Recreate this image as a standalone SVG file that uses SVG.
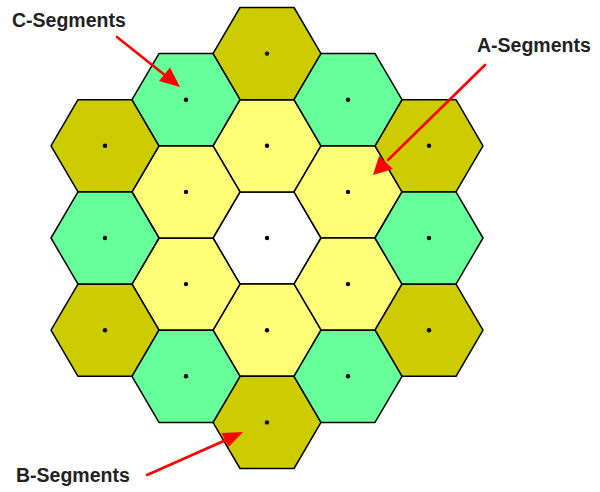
<svg xmlns="http://www.w3.org/2000/svg" xmlns:xlink="http://www.w3.org/1999/xlink" width="600" height="492" viewBox="0 0 600 492">
<style>
.hex{stroke:#000;stroke-width:1.5;stroke-linejoin:round}
.olive{fill:#cccc00}
.green{fill:#66ff99}
.yellow{fill:#ffff77}
.white{fill:#ffffff}
.dot{fill:#000}
.lbl{font-family:"Liberation Sans",Arial,sans-serif;font-size:19.5px;font-weight:bold;fill:#222}
.arr{stroke:#ff0000;stroke-width:2.6;fill:none;stroke-linecap:round}
.head{fill:#ff0000}
</style>
<defs>
<polygon id="hx" points="-54,0 -27,-46.1 27,-46.1 54,0 27,46.1 -27,46.1"/>
</defs>
<rect width="600" height="492" fill="#fff"/>
<g id="segments">
<g id="center" transform="translate(267,238)"><use href="#hx" class="hex white"/><circle r="2.2" class="dot"/></g>
<g id="a1" transform="translate(267,145.8)"><use href="#hx" class="hex yellow"/><circle r="2.2" class="dot"/></g>
<g id="a2" transform="translate(348,191.9)"><use href="#hx" class="hex yellow"/><circle r="2.2" class="dot"/></g>
<g id="a3" transform="translate(348,284.1)"><use href="#hx" class="hex yellow"/><circle r="2.2" class="dot"/></g>
<g id="a4" transform="translate(267,330.2)"><use href="#hx" class="hex yellow"/><circle r="2.2" class="dot"/></g>
<g id="a5" transform="translate(186,284.1)"><use href="#hx" class="hex yellow"/><circle r="2.2" class="dot"/></g>
<g id="a6" transform="translate(186,191.9)"><use href="#hx" class="hex yellow"/><circle r="2.2" class="dot"/></g>
<g id="b1" transform="translate(267,53.6)"><use href="#hx" class="hex olive"/><circle r="2.2" class="dot"/></g>
<g id="b2" transform="translate(429,145.8)"><use href="#hx" class="hex olive"/><circle r="2.2" class="dot"/></g>
<g id="b3" transform="translate(429,330.2)"><use href="#hx" class="hex olive"/><circle r="2.2" class="dot"/></g>
<g id="b4" transform="translate(267,422.4)"><use href="#hx" class="hex olive"/><circle r="2.2" class="dot"/></g>
<g id="b5" transform="translate(105,330.2)"><use href="#hx" class="hex olive"/><circle r="2.2" class="dot"/></g>
<g id="b6" transform="translate(105,145.8)"><use href="#hx" class="hex olive"/><circle r="2.2" class="dot"/></g>
<g id="c1" transform="translate(348,99.7)"><use href="#hx" class="hex green"/><circle r="2.2" class="dot"/></g>
<g id="c2" transform="translate(429,238)"><use href="#hx" class="hex green"/><circle r="2.2" class="dot"/></g>
<g id="c3" transform="translate(348,376.3)"><use href="#hx" class="hex green"/><circle r="2.2" class="dot"/></g>
<g id="c4" transform="translate(186,376.3)"><use href="#hx" class="hex green"/><circle r="2.2" class="dot"/></g>
<g id="c5" transform="translate(105,238)"><use href="#hx" class="hex green"/><circle r="2.2" class="dot"/></g>
<g id="c6" transform="translate(186,99.7)"><use href="#hx" class="hex green"/><circle r="2.2" class="dot"/></g>
</g>
<g id="labels">
<g id="label-c"><text class="lbl" x="12" y="27">C-Segments</text></g>
<g id="label-a"><text class="lbl" x="477" y="52">A-Segments</text></g>
<g id="label-b"><text class="lbl" x="16" y="482">B-Segments</text></g>
</g>
<g id="connectors">
<line class="arr" x1="117" y1="37" x2="166" y2="76"/>
<polygon class="head" points="180,87 159,81 170,67.5"/>
<line class="arr" x1="485" y1="65" x2="388" y2="160"/>
<polygon class="head" points="373,175 379,156 393,169"/>
<line class="arr" x1="147" y1="475" x2="226" y2="440"/>
<polygon class="head" points="243,432 221.5,433 228.5,447"/>
</g>
</svg>
